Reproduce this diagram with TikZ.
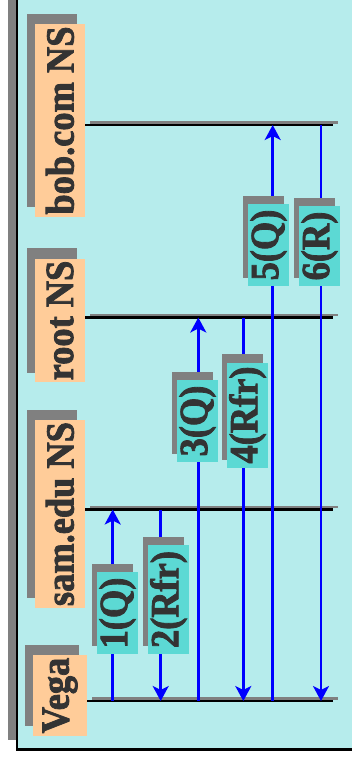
\documentclass[tikz,border=0pt]{standalone}
\usepackage{fontspec}
\setmainfont{Liberation Serif}
\newfontfamily\boxfont{Liberation Serif}[FakeStretch=0.91,FakeBold=2]
\usepackage{xcolor}
\definecolor{sky}{HTML}{B6ECEC}
\definecolor{peach}{HTML}{FFCC99}
\definecolor{aqua}{HTML}{5CD9D4}
\definecolor{greyish}{HTML}{808080}
\definecolor{ink}{HTML}{333333}
\usepackage{tikz}
\usetikzlibrary{arrows.meta,backgrounds,calc}
\pgfdeclarelayer{mid}
\pgfsetlayers{background,mid,main}
\tikzset{
  bigfont/.style={font=\boxfont\fontsize{40}{44}\selectfont\bfseries},
  server/.style={bigfont, rotate=90, fill=peach, text=ink, minimum height=50pt, inner xsep=2pt, inner ysep=0pt},
  msg/.style={bigfont, rotate=90, fill=aqua, text=ink, minimum height=41pt, inner xsep=4pt, inner ysep=0pt},
  timeline/.style={draw=black, line width=2.5pt},
  tlshade/.style={draw=greyish, line width=2.5pt},
  flow/.style={draw=blue, line width=2.5pt, -{Stealth[length=15pt, width=16pt, inset=4pt]}},
}

\begin{document}
\begin{tikzpicture}[x=1pt, y=-1pt]
  \useasboundingbox (0,0) rectangle (352,764);

  % name servers (rotated, south = right edge)
  \node[server, minimum width=193pt] (bob) at (60,120.5) {bob.com NS};
  \node[server, minimum width=123pt] (root) at (60,320.5) {root NS};
  \node[server, minimum width=188pt] (sam) at (60,514) {sam.edu NS};
  \node[server, minimum width=81pt, minimum height=54pt] (vega) at (60,695.5) {Vega};

  % messages
  \node[msg, minimum width=82pt] (m1) at (117.5,613) {1(Q)};
  \node[msg, minimum width=109pt] (m2) at (168.5,599.5) {2(Rfr)};
  \node[msg, minimum width=82pt] (m3) at (197.5,421) {3(Q)};
  \node[msg, minimum width=100pt] (m4) at (247.5,415) {4(Rfr)};
  \node[msg, minimum width=82pt] (m5) at (268.5,245) {5(Q)};
  \node[msg, minimum width=80pt] (m6) at (319.5,246) {6(R)};

  \begin{scope}[on background layer]
    \fill[greyish] (8,0) rectangle (16,740);
    \fill[sky] (17,0) rectangle (352,748.5);
    \draw[line width=2.5pt] (17,0) -- (17,749.5) -- (352,749.5);
    \foreach \n in {bob,root,sam,vega}
      \fill[greyish] ($(\n.south west)+(-8,-10)$) rectangle ($(\n.north east)+(-8,-10)$);
    \foreach \n/\y in {bob/125,root/317.5,sam/509.5,vega/701} {
      \coordinate (\n-line) at (333,\y);
      \draw[tlshade] ($(\n.south |- \n-line)+(5,-2.5)$) -- ($(\n-line)+(5,-2.5)$);
      \draw[timeline] (\n.south |- \n-line) -- (\n-line);
    }
    \foreach \x/\a/\b in {112.7/vega/sam, 160.7/sam/vega, 198.3/vega/root, 243.3/root/vega, 272.7/vega/bob, 321/bob/vega} {
      \coordinate (top) at (\x,0);
      \draw[flow] (\a-line -| top) -- (\b-line -| top);
    }
  \end{scope}

  \begin{pgfonlayer}{mid}
    \foreach \m in {m1,m2,m3,m4,m5,m6}
      \fill[greyish] ($(\m.south west)+(-5,-8)$) rectangle ($(\m.north east)+(-5,-8)$);
  \end{pgfonlayer}
\end{tikzpicture}
\end{document}
